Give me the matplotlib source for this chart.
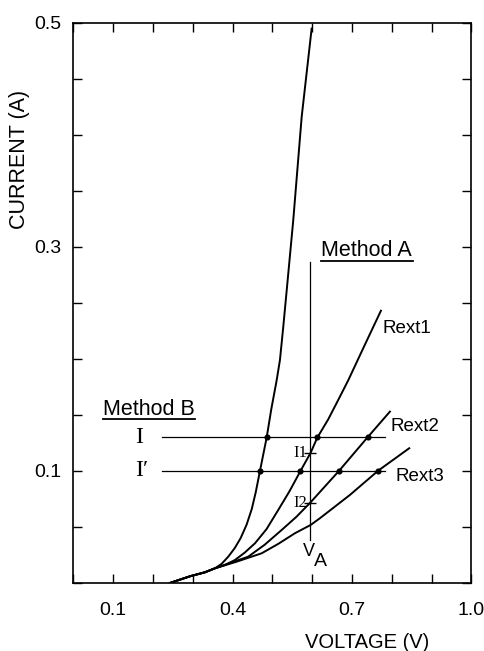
import numpy as np
import matplotlib
matplotlib.use("Agg")
import matplotlib.pyplot as plt

# ---- data ----
x_ticks = [0.0, 0.1, 0.2, 0.3, 0.4, 0.5, 0.6, 0.7, 0.8, 0.9, 1.0]
x_ticklabels = ["", "0.1", "", "", "0.4", "", "", "0.7", "", "", "1.0"]
y_ticks = [0.0, 0.05, 0.1, 0.15, 0.2, 0.25, 0.3, 0.35, 0.4, 0.45, 0.5]
y_ticklabels = ["", "", "0.1", "", "", "", "0.3", "", "", "", "0.5"]

# steep curve (no external resistance)
v0 = [0.2425, 0.293, 0.33, 0.3555, 0.372, 0.389, 0.405, 0.42, 0.435, 0.448, 0.458,
      0.4686, 0.4854, 0.497, 0.5106, 0.5188, 0.527, 0.536, 0.5523, 0.5734, 0.5985]
i0 = [0.0, 0.006, 0.0095, 0.0131, 0.017, 0.0235, 0.031, 0.040, 0.052, 0.066, 0.081,
      0.100, 0.1297, 0.155, 0.181, 0.199, 0.228, 0.262, 0.324, 0.416, 0.495]
# Rext1
v1 = [0.2425, 0.293, 0.33, 0.3555, 0.38, 0.4058, 0.43, 0.456, 0.485, 0.5146, 0.543,
      0.5709, 0.596, 0.6126, 0.64, 0.6653, 0.6905, 0.73, 0.7726]
i1 = [0.0, 0.006, 0.0095, 0.0131, 0.016, 0.0205, 0.027, 0.0354, 0.048, 0.0652, 0.082,
      0.1003, 0.1163, 0.1297, 0.146, 0.1634, 0.181, 0.211, 0.2431]
# Rext2
v2 = [0.2425, 0.293, 0.33, 0.3555, 0.395, 0.4392, 0.48, 0.5231, 0.56, 0.5955, 0.6678,
      0.7382, 0.7952]
i2 = [0.0, 0.006, 0.0095, 0.0131, 0.018, 0.0235, 0.034, 0.0473, 0.059, 0.0719, 0.1003,
      0.1297, 0.153]
# Rext3
v3 = [0.2425, 0.293, 0.33, 0.3555, 0.41, 0.4729, 0.515, 0.5565, 0.596, 0.6193, 0.6947,
      0.7658, 0.8437]
i3 = [0.0, 0.006, 0.0095, 0.0131, 0.019, 0.0265, 0.035, 0.0444, 0.0518, 0.0578, 0.0786,
      0.1003, 0.1203]

I_level = 0.13
I_prime_level = 0.10
methodB_xrange = [0.2216, 0.7827]
V_A = 0.595
VA_yrange = [0.038, 0.287]

# ---- figure ----
fig = plt.figure(figsize=(4.85, 6.51), dpi=100)
ax = fig.add_axes([0.1515, 0.1045, 0.972 - 0.1515, 0.9647 - 0.1045])

sans = ["Liberation Sans", "DejaVu Sans"]
serif = ["Liberation Serif", "DejaVu Serif"]

curves = [(v0, i0), (v1, i1), (v2, i2), (v3, i3)]
for v, i in curves:
    ax.plot(v, i, color="black", lw=1.4, solid_joinstyle="round")

# Method B horizontal lines
ax.plot(methodB_xrange, [I_level, I_level], color="black", lw=0.9)
ax.plot(methodB_xrange, [I_prime_level, I_prime_level], color="black", lw=0.9)

# intersection dots
for v, i in curves:
    for lev in (I_level, I_prime_level):
        if max(i) >= lev:
            xv = np.interp(lev, i, v)
            ax.plot([xv], [lev], "o", color="black", ms=3.4)

# Method A vertical line
ax.plot([V_A, V_A], VA_yrange, color="black", lw=0.9)
# I1 and I2 marks
i1_at_VA = np.interp(V_A, v1, i1)
i2_at_VA = np.interp(V_A, v2, i2)
ax.plot([V_A], [i1_at_VA], marker="_", color="black", ms=8, mew=1.0)
ax.plot([V_A], [i2_at_VA], marker="_", color="black", ms=8, mew=1.0)
ax.text(V_A - 0.008, i1_at_VA, "I1", family=serif, fontsize=12, ha="right", va="center")
ax.text(V_A - 0.008, i2_at_VA, "I2", family=serif, fontsize=12, ha="right", va="center")

# labels of curves
ax.text(0.7776, 0.2268, "Rext1", family=sans, fontsize=13.5, ha="left", va="center")
ax.text(0.797, 0.1397, "Rext2", family=sans, fontsize=13.5, ha="left", va="center")
ax.text(0.808, 0.0955, "Rext3", family=sans, fontsize=13.5, ha="left", va="center")

# Method A / B headings with underline
ax.text(0.622, 0.292, "Method A", family=sans, fontsize=15.5, ha="left", va="baseline")
ax.plot([0.622, 0.854], [0.2875, 0.2875], color="black", lw=1.3)
ax.text(0.0734, 0.150, "Method B", family=sans, fontsize=15.5, ha="left", va="baseline")
ax.plot([0.0734, 0.305], [0.1462, 0.1462], color="black", lw=1.3)

ax.text(0.165, I_level, "I", family=serif, fontsize=17, ha="center", va="center")
ax.text(0.171, I_prime_level, "I\u2032", family=serif, fontsize=17, ha="center", va="center")

# V_A label
ax.text(0.5917, 0.0285, "V", family=sans, fontsize=13, ha="center", va="center")
ax.text(0.621, 0.0190, "A", family=sans, fontsize=14, ha="center", va="center")

# axes formatting
ax.set_xlim(0.0, 1.0)
ax.set_ylim(0.0, 0.5)
ax.set_xticks(x_ticks)
ax.set_xticklabels(x_ticklabels)
ax.set_yticks(y_ticks)
ax.set_yticklabels(y_ticklabels)
ax.tick_params(axis="both", which="both", direction="in", length=6.5, width=1.0,
               top=True, right=True, labelsize=14)
ax.tick_params(axis="x", pad=14)
ax.tick_params(axis="y", pad=9)
for lab in ax.get_xticklabels() + ax.get_yticklabels():
    lab.set_family(sans)
for sp in ax.spines.values():
    sp.set_linewidth(1.2)

fig.text(366.7 / 485, 1 - 642 / 651, "VOLTAGE (V)", family=sans, fontsize=14.5,
         ha="center", va="center")
fig.text(20 / 485, 1 - 159 / 651, "CURRENT (A)", family=sans, fontsize=15.5,
         ha="center", va="center", rotation=90)

fig.savefig("out.png", dpi=100, facecolor="white")
